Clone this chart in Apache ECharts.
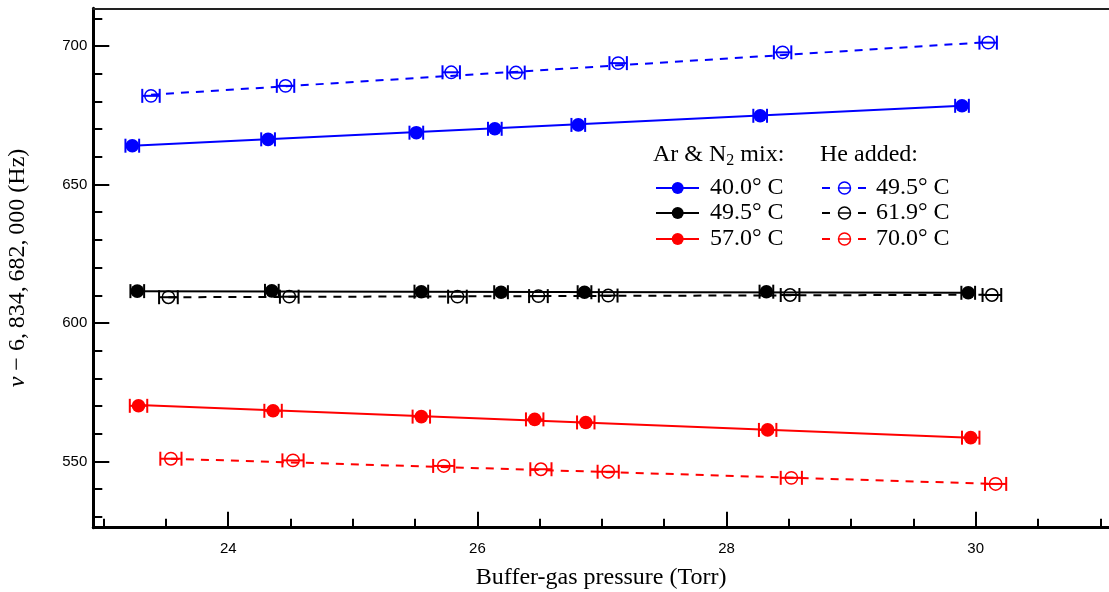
<!DOCTYPE html>
<html>
<head>
<meta charset="utf-8">
<script src="https://cdn.jsdelivr.net/npm/echarts@6/dist/echarts.min.js"></script>
<style>
html,body{margin:0;padding:0;background:#fff;}
#chart{width:1109px;height:592px;}
</style>
</head>
<body>
<div id="chart"></div>
<script>
// ---- data (pressure in Torr, frequency offset in Hz) ----
const pressBlueAr = [23.23, 24.32, 25.51, 26.14, 26.81, 28.27, 29.89];
const freqBlueAr  = [664.0, 666.3, 668.7, 670.1, 671.5, 674.8, 678.4];
const pressBlueHe = [23.38, 24.46, 25.79, 26.31, 27.13, 28.45, 30.10];
const freqBlueHe  = [682.0, 685.6, 690.5, 690.4, 693.8, 697.7, 701.2];
const pressBlackAr = [23.27, 24.35, 25.55, 26.19, 26.86, 28.32, 29.94];
const freqBlackAr  = [611.5, 611.6, 611.3, 611.1, 611.1, 611.3, 610.9];
const pressBlackHe = [23.52, 24.49, 25.84, 26.49, 27.05, 28.51, 30.13];
const freqBlackHe  = [609.3, 609.5, 609.5, 609.7, 609.9, 610.1, 610.1];
const pressRedAr = [23.28, 24.36, 25.55, 26.46, 26.87, 28.33, 29.96];
const freqRedAr  = [570.1, 568.3, 566.2, 565.2, 564.1, 561.4, 558.6];
const pressRedHe = [23.54, 24.52, 25.73, 26.51, 27.05, 28.52, 30.16];
const freqRedHe  = [551.0, 550.4, 548.4, 547.2, 546.3, 544.1, 541.9];

// horizontal error half-widths (Torr)
const errBlueAr = 0.055, errBlueHe = 0.07, errBlackAr = 0.055, errBlackHe = 0.075, errRedAr = 0.07, errRedHe = 0.085;

// fitted lines (endpoints)
const fitBlueArX = [23.23, 29.89], fitBlueArY = [664.0, 678.4];
const fitBlueHeX = [23.38, 30.10], fitBlueHeY = [682.4, 701.4];
const fitBlackArX = [23.27, 29.94], fitBlackArY = [611.5, 610.9];
const fitBlackHeX = [23.52, 30.13], fitBlackHeY = [609.3, 610.2];
const fitRedArX = [23.28, 29.96], fitRedArY = [570.4, 558.6];
const fitRedHeX = [23.54, 30.16], fitRedHeY = [551.0, 541.9];

// ticks
const xMajor = [24, 26, 28, 30];
const xMinor = [23, 23.5, 24.5, 25, 25.5, 26.5, 27, 27.5, 28.5, 29, 29.5, 30.5, 31];
const yMajor = [550, 600, 650, 700];
const yMinor = [530, 540, 560, 570, 580, 590, 610, 620, 630, 640, 660, 670, 680, 690, 710];

const legendAr = ['40.0° C', '49.5° C', '57.0° C'];
const legendHe = ['49.5° C', '61.9° C', '70.0° C'];

const BLUE = '#0000ff', BLACK = '#000000', RED = '#ff0000';
const XMIN = 22.917, XMAX = 31.07, YMIN = 526.1, YMAX = 713.6;

function zip(xs, ys){ return xs.map((x,i)=>[x, ys[i]]); }

function fitSeries(xs, ys, color, dashed){
  return {
    type:'line', data: zip(xs, ys), showSymbol:false, silent:true, z:2,
    lineStyle:{color: color, width:2, type: dashed ? [8,7] : 'solid'},
    animation:false
  };
}
function pointSeries(xs, ys, err, color, filled){
  return {
    type:'custom', data: zip(xs, ys), z:3, animation:false,
    renderItem: function(params, api){
      const x = api.value(0), y = api.value(1);
      const c = api.coord([x, y]);
      const l = api.coord([x - err, y]);
      const r = api.coord([x + err, y]);
      const cap = 7;
      const st = {stroke: color, lineWidth: 2};
      const children = [
        {type:'line', shape:{x1:l[0], y1:c[1], x2:r[0], y2:c[1]}, style:st},
        {type:'line', shape:{x1:l[0], y1:c[1]-cap, x2:l[0], y2:c[1]+cap}, style:st},
        {type:'line', shape:{x1:r[0], y1:c[1]-cap, x2:r[0], y2:c[1]+cap}, style:st}
      ];
      if (filled) {
        children.push({type:'circle', shape:{cx:c[0], cy:c[1], r:6.8}, style:{fill: color}});
      } else {
        children.push({type:'circle', shape:{cx:c[0], cy:c[1], r:6.2}, style:{fill:'none', stroke: color, lineWidth:1.5}});
      }
      return {type:'group', children: children};
    }
  };
}

const chart = echarts.init(document.getElementById('chart'), null, {renderer:'canvas'});

const serifFont = '"Liberation Serif", "DejaVu Serif", serif';
const tickLabel = {color:'#000', fontFamily:'"Liberation Sans", Arial, sans-serif', fontSize:15};

// legend graphics
const legendRowsY = [188, 213, 239];
const legendColors = [BLUE, BLACK, RED];
const legendGraphics = [];
legendGraphics.push({type:'text', left: 653, top: 143, style:{
  text:'Ar & N{sub|2} mix:', fill:'#000', font:'24px ' + serifFont,
  rich:{sub:{fontSize:16, fontFamily: serifFont, verticalAlign:'bottom', padding:[11,0,0,0], fill:'#000'}}
}});
legendGraphics.push({type:'text', left: 820, top: 143, style:{text:'He added:', fill:'#000', font:'24px ' + serifFont}});
legendRowsY.forEach((yy, i) => {
  const col = legendColors[i];
  legendGraphics.push({type:'line', shape:{x1:656, y1:yy, x2:699, y2:yy}, style:{stroke:col, lineWidth:2}});
  legendGraphics.push({type:'circle', shape:{cx:677.7, cy:yy, r:6}, style:{fill:col}});
  legendGraphics.push({type:'text', x:710, y:yy, style:{text:legendAr[i], fill:'#000', font:'24px ' + serifFont, verticalAlign:'middle'}});
  legendGraphics.push({type:'line', shape:{x1:822, y1:yy, x2:830, y2:yy}, style:{stroke:col, lineWidth:2}});
  legendGraphics.push({type:'line', shape:{x1:838.5, y1:yy, x2:850.5, y2:yy}, style:{stroke:col, lineWidth:1.5}});
  legendGraphics.push({type:'circle', shape:{cx:844.5, cy:yy, r:6}, style:{fill:'none', stroke:col, lineWidth:1.5}});
  legendGraphics.push({type:'line', shape:{x1:858, y1:yy, x2:866, y2:yy}, style:{stroke:col, lineWidth:2}});
  legendGraphics.push({type:'text', x:876, y:yy, style:{text:legendHe[i], fill:'#000', font:'24px ' + serifFont, verticalAlign:'middle'}});
});

const option = {
  backgroundColor:'#fff',
  animation:false,
  grid:{left:93.3, right:0, top:8.3, bottom:64.3, containLabel:false, outerBoundsMode:'none'},
  xAxis:[
    {type:'value', min:XMIN, max:XMAX, position:'bottom',
     axisLine:{onZero:false, lineStyle:{color:'#000', width:3}},
     axisTick:{inside:true, length:16, customValues:xMajor, lineStyle:{color:'#000', width:2}},
     axisLabel:{customValues:xMajor, margin:14, ...tickLabel},
     splitLine:{show:false},
     name:'Buffer-gas pressure (Torr)', nameLocation:'middle', nameGap:38,
     nameTextStyle:{color:'#000', fontFamily:serifFont, fontSize:24}},
    {type:'value', min:XMIN, max:XMAX, position:'bottom',
     axisLine:{show:false, onZero:false},
     axisTick:{inside:true, length:9, customValues:xMinor, lineStyle:{color:'#000', width:2}},
     axisLabel:{show:false}, splitLine:{show:false}},
    {type:'value', min:XMIN, max:XMAX, position:'top',
     axisLine:{onZero:false, lineStyle:{color:'#222', width:2}},
     axisTick:{show:false}, axisLabel:{show:false}, splitLine:{show:false}}
  ],
  yAxis:[
    {type:'value', min:YMIN, max:YMAX, position:'left',
     axisLine:{onZero:false, lineStyle:{color:'#000', width:3}},
     axisTick:{inside:true, length:16, customValues:yMajor, lineStyle:{color:'#000', width:2}},
     axisLabel:{customValues:yMajor, margin:6, ...tickLabel},
     splitLine:{show:false},
     name:'{it|ν} − 6,\u2009834,\u2009682,\u2009000 (Hz)', nameLocation:'middle', nameGap:64, nameRotate:90,
     nameTextStyle:{color:'#000', fontFamily:serifFont, fontSize:24,
       rich:{it:{fontStyle:'italic', fontFamily:serifFont, fontSize:24, color:'#000'}}}},
    {type:'value', min:YMIN, max:YMAX, position:'left',
     axisLine:{show:false, onZero:false},
     axisTick:{inside:true, length:9, customValues:yMinor, lineStyle:{color:'#000', width:2}},
     axisLabel:{show:false}, splitLine:{show:false}}
  ],
  series:[
    fitSeries(fitBlueArX, fitBlueArY, BLUE, false),
    fitSeries(fitBlueHeX, fitBlueHeY, BLUE, true),
    fitSeries(fitBlackArX, fitBlackArY, BLACK, false),
    fitSeries(fitBlackHeX, fitBlackHeY, BLACK, true),
    fitSeries(fitRedArX, fitRedArY, RED, false),
    fitSeries(fitRedHeX, fitRedHeY, RED, true),
    pointSeries(pressBlueAr, freqBlueAr, errBlueAr, BLUE, true),
    pointSeries(pressBlueHe, freqBlueHe, errBlueHe, BLUE, false),
    pointSeries(pressBlackAr, freqBlackAr, errBlackAr, BLACK, true),
    pointSeries(pressBlackHe, freqBlackHe, errBlackHe, BLACK, false),
    pointSeries(pressRedAr, freqRedAr, errRedAr, RED, true),
    pointSeries(pressRedHe, freqRedHe, errRedHe, RED, false)
  ],
  graphic: legendGraphics
};
chart.setOption(option);
</script>
</body>
</html>
